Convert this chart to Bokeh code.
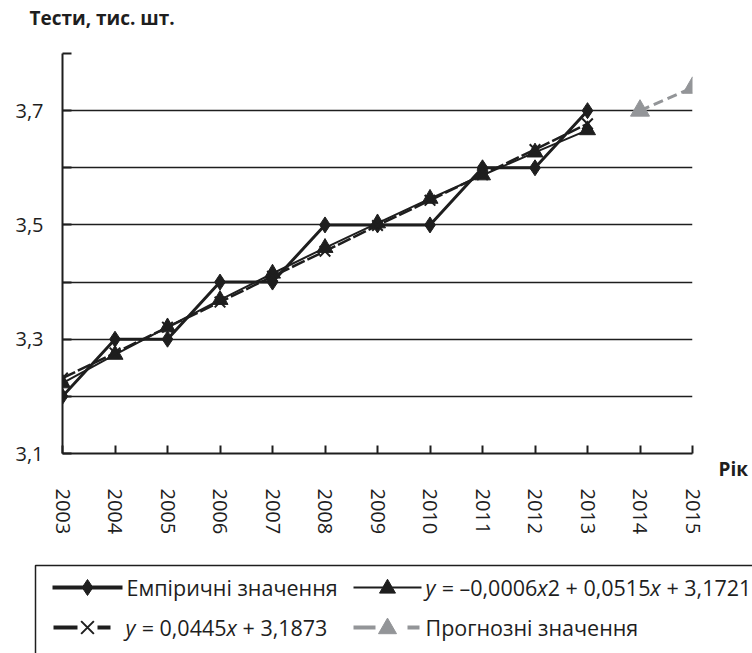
from bokeh.plotting import figure
from bokeh.models import Range1d, FixedTicker, LinearAxis
from bokeh.embed import file_html
from bokeh.resources import INLINE
from bokeh.core.properties import value

# ---------------- data ----------------
years = [2003, 2004, 2005, 2006, 2007, 2008, 2009, 2010, 2011, 2012, 2013]
empirical = [3.20, 3.30, 3.30, 3.40, 3.40, 3.50, 3.50, 3.50, 3.60, 3.60, 3.70]
linear_trend = [3.232, 3.276, 3.321, 3.365, 3.410, 3.454, 3.499, 3.543, 3.588, 3.632, 3.677]
quad_trend = [3.223, 3.273, 3.321, 3.369, 3.415, 3.460, 3.503, 3.546, 3.587, 3.627, 3.666]
forecast_years = [2014, 2015]
forecast = [3.70, 3.74]

x_ticks = [2003, 2004, 2005, 2006, 2007, 2008, 2009, 2010, 2011, 2012, 2013, 2014, 2015]
x_tick_labels = ["2003", "2004", "2005", "2006", "2007", "2008", "2009",
                 "2010", "2011", "2012", "2013", "2014", "2015"]
y_ticks = [3.1, 3.2, 3.3, 3.4, 3.5, 3.6, 3.7, 3.8]
y_tick_labels = ["3,1", "", "3,3", "", "3,5", "", "3,7", ""]

title_text = "Тести, тис. шт."
x_title = "Рік"
legend_empirical = "Емпіричні значення"
legend_forecast = "Прогнозні значення"
# formula labels split into (text, italic) runs
legend_quad_runs = [("y", True), ("= –0,0006", False), ("x", True),
                    ("2 + 0,0515", False), ("x", True), ("+ 3,1721", False)]
legend_lin_runs = [("y", True), ("= 0,0445", False), ("x", True), ("+ 3,1873", False)]

FONT = "Open Sans"
INK = "#1e1e1e"
GREY = "#939598"

# ---------------- main chart ----------------
p = figure(width=752, height=558, output_backend="svg", toolbar_location=None,
           x_range=Range1d(2003, 2015), y_range=Range1d(3.1, 3.8),
           min_border_left=62, min_border_right=60, min_border_top=53,
           min_border_bottom=105, title=title_text + "\n")
p.outline_line_color = None
p.background_fill_color = "white"
p.border_fill_color = "white"

p.title.align = "left"
p.title.offset = -33
p.title.text_font = FONT
p.title.text_font_size = "19px"
p.title.text_font_style = "bold"
p.title.text_color = INK
p.title.text_line_height = 0.85
p.title.standoff = 0

p.xgrid.visible = False
p.ygrid.ticker = FixedTicker(ticks=y_ticks)
p.ygrid.grid_line_color = INK
p.ygrid.grid_line_width = 1.6

p.xaxis.ticker = FixedTicker(ticks=x_ticks)
p.xaxis.major_label_overrides = {t: l for t, l in zip(x_ticks, x_tick_labels)}
p.xaxis.major_label_orientation = "vertical"
p.xaxis.major_tick_in = 8
p.xaxis.major_tick_out = 0
p.xaxis.minor_tick_line_color = None
p.xaxis.major_label_standoff = 35

p.yaxis.ticker = FixedTicker(ticks=y_ticks)
p.yaxis.major_label_overrides = {t: l for t, l in zip(y_ticks, y_tick_labels)}
p.yaxis.major_tick_in = 9
p.yaxis.major_tick_out = 0
p.yaxis.minor_tick_line_color = None
p.yaxis.major_label_standoff = 19

for ax in (p.xaxis, p.yaxis):
    ax.axis_line_color = INK
    ax.axis_line_width = 2
    ax.major_tick_line_color = INK
    ax.major_tick_line_width = 2
    ax.major_label_text_font = FONT
    ax.major_label_text_font_size = "20px"
    ax.major_label_text_color = INK

# "Рік" next to the end of the x axis, carried by a label-only right axis
rik_axis = LinearAxis(ticker=FixedTicker(ticks=[3.1]),
                      major_label_overrides={3.1: "\n" + x_title},
                      axis_line_color=None, major_tick_line_color=None,
                      minor_tick_line_color=None, major_tick_out=0, major_tick_in=0,
                      major_label_standoff=26, major_label_text_font=FONT,
                      major_label_text_font_size="19px", major_label_text_font_style="bold",
                      major_label_text_color=INK)
p.add_layout(rik_axis, "right")

# series
p.line(years, empirical, line_color=INK, line_width=3)
p.scatter(years, empirical, marker="diamond", size=16, fill_color=INK, line_color=INK)

p.line(years, quad_trend, line_color=INK, line_width=2)
p.scatter(years, quad_trend, marker="triangle", size=16, fill_color=INK, line_color=INK)

p.line(years, linear_trend, line_color=INK, line_width=2.5, line_dash="14 3")
p.scatter(years, linear_trend, marker="x", size=15, line_color=INK, line_width=2)

p.line(forecast_years, forecast, line_color=GREY, line_width=3, line_dash="10 5")
p.scatter(forecast_years, forecast, marker="triangle", size=19, fill_color=GREY, line_color=GREY)

# ---------------- legend (separate root, pixel coordinates) ----------------
LH = 95
lg = figure(width=752, height=LH, output_backend="svg", toolbar_location=None,
            x_range=Range1d(0, 752), y_range=Range1d(LH, 0),
            x_axis_location=None, y_axis_location=None,
            min_border_left=0, min_border_right=0, min_border_top=0, min_border_bottom=0)
lg.grid.visible = False
lg.outline_line_color = None
lg.background_fill_color = "white"
lg.border_fill_color = "white"

# box (only left and top edges fall inside the window)
lg.line([35, 35, 752], [LH, 7, 7], line_color=INK, line_width=1.5)

R1, R2 = 29, 69
LS = 21.5  # legend font size px

# empirical
lg.line([52, 122], [R1, R1], line_color=INK, line_width=4)
lg.scatter([87], [R1], marker="diamond", size=16, fill_color=INK, line_color=INK)
lg.text([126], [R1], text=[legend_empirical], text_font=value(FONT),
        text_font_size=f"{LS}px", text_baseline="middle", text_color=INK)

# quadratic
lg.line([353, 421], [R1, R1], line_color=INK, line_width=2)
lg.scatter([387], [R1 + 1], marker="triangle", size=16, fill_color=INK, line_color=INK)

# linear
lg.line([53, 110], [R2, R2], line_color=INK, line_width=4, line_dash="24 20")
lg.scatter([87], [R2], marker="x", size=18, line_color=INK, line_width=2)

# forecast
lg.line([353, 419], [R2, R2], line_color=GREY, line_width=4, line_dash="22 32 12")
lg.scatter([387], [R2 + 1], marker="triangle", size=18, fill_color=GREY, line_color=GREY)
lg.text([425], [R2], text=[legend_forecast], text_font=value(FONT),
        text_font_size=f"{LS}px", text_baseline="middle", text_color=INK)

# formula runs with estimated advances (em units of Open Sans)
def run_widths(runs):
    w = []
    for t, it in runs:
        tot = 0.0
        for ch in t:
            if ch in "0123456789=+":
                tot += 0.572
            elif ch == "–":
                tot += 0.50
            elif ch == ",":
                tot += 0.25
            elif ch == " ":
                tot += 0.26
            else:
                tot += 0.49
        w.append(tot * LS)
    return w

def draw_runs(x0, y, runs):
    ws = run_widths(runs)
    x = x0
    prev_italic = None
    for (t, it), w in zip(runs, ws):
        if prev_italic is not None and not it and t[0] in "=+":
            x += 0.26 * LS
        lg.text([x], [y], text=[t], text_font=value(FONT), text_font_size=f"{LS}px",
                text_font_style="italic" if it else "normal",
                text_baseline="middle", text_color=INK)
        x += w
        prev_italic = it

draw_runs(425, R1, legend_quad_runs)
draw_runs(125, R2, legend_lin_runs)

open("out.html", "w").write(file_html([p, lg], INLINE))
